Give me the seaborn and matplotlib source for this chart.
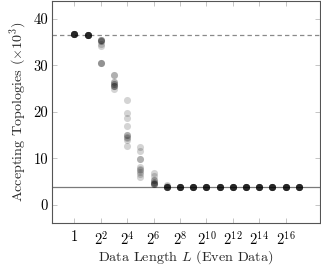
import numpy as np
import pandas as pd
import matplotlib
matplotlib.use("Agg")
import matplotlib.pyplot as plt
import seaborn as sns

# ---- data ----
exponents = list(range(0, 18))  # L = 2**k
samples = {
    0: [36.7] * 10,
    1: [36.4] * 10,
    2: [35.4, 35.4, 35.4, 35.2, 34.5, 34.1, 30.6, 30.6, 30.6, 35.3],
    3: [28.0, 28.0, 26.5, 26.5, 26.0, 26.0, 25.5, 25.5, 25.5, 25.0],
    4: [22.5, 19.8, 18.6, 16.9, 15.0, 15.0, 14.7, 14.5, 13.9, 12.7],
    5: [12.5, 11.6, 9.9, 9.9, 8.2, 7.7, 7.5, 7.1, 6.1, 6.6],
    6: [6.8, 6.2, 5.4, 5.4, 4.7, 4.6, 4.6, 4.5, 4.8, 5.0],
    7: [4.3, 4.0, 3.9, 3.9, 3.9, 3.9, 3.9, 3.9, 3.9, 3.9],
}
for k in range(8, 18):
    samples[k] = [3.8] * 10

upper_ref = 36.55
lower_ref = 3.8
xtick_exps = [0, 2, 4, 6, 8, 10, 12, 14, 16]
xtick_labels = ["1"] + [rf"$2^{{{k}}}$" for k in xtick_exps[1:]]
yticks = [0, 10, 20, 30, 40]

rows = []
for k in exponents:
    for v in samples[k]:
        rows.append({"L": 2.0 ** k, "count": v})
df = pd.DataFrame(rows)

sns.set_theme(style="ticks")
plt.rcParams["font.family"] = ["cmr10", "DejaVu Serif"]
plt.rcParams["mathtext.fontset"] = "cm"
plt.rcParams["axes.unicode_minus"] = False
plt.rcParams["axes.formatter.use_mathtext"] = True

fig = plt.figure(figsize=(3.21, 2.68), dpi=100)
ax = fig.add_axes([0.163, 0.167, 0.834, 0.831])

ax.set_xscale("log", base=2)
ax.axhline(upper_ref, color="#8a8a8a", lw=0.9, ls=(0, (3.5, 2.5)), zorder=1)
ax.axhline(lower_ref, color="#7a7a7a", lw=0.9, zorder=1)

sns.scatterplot(data=df, x="L", y="count", ax=ax, color="black",
                alpha=0.17, s=26, linewidth=0, zorder=3, legend=False)

ax.set_xlim(2 ** -1.67, 2 ** 18.6)
ax.set_ylim(-3.9, 43.9)
ax.set_xticks([2.0 ** k for k in xtick_exps])
ax.set_xticklabels(xtick_labels)
ax.xaxis.set_minor_locator(matplotlib.ticker.NullLocator())
ax.set_yticks(yticks)
ax.set_yticklabels([str(t) for t in yticks])

ax.tick_params(axis="both", which="both", direction="in", top=True, right=True,
               length=3.5, width=0.6, color="#bbbbbb", labelsize=10.5,
               labelcolor="black")
ax.tick_params(axis="y", pad=3)
ax.tick_params(axis="x", pad=5)
for sp in ax.spines.values():
    sp.set_color("#555555")
    sp.set_linewidth(0.8)
    sp.set_visible(True)

ax.set_xlabel(r"Data Length $L$ (Even Data)", fontsize=10.2, labelpad=0)
ax.set_ylabel(r"Accepting Topologies ($\times 10^3$)", fontsize=10.2, labelpad=3)

fig.savefig("out.png", dpi=100)
